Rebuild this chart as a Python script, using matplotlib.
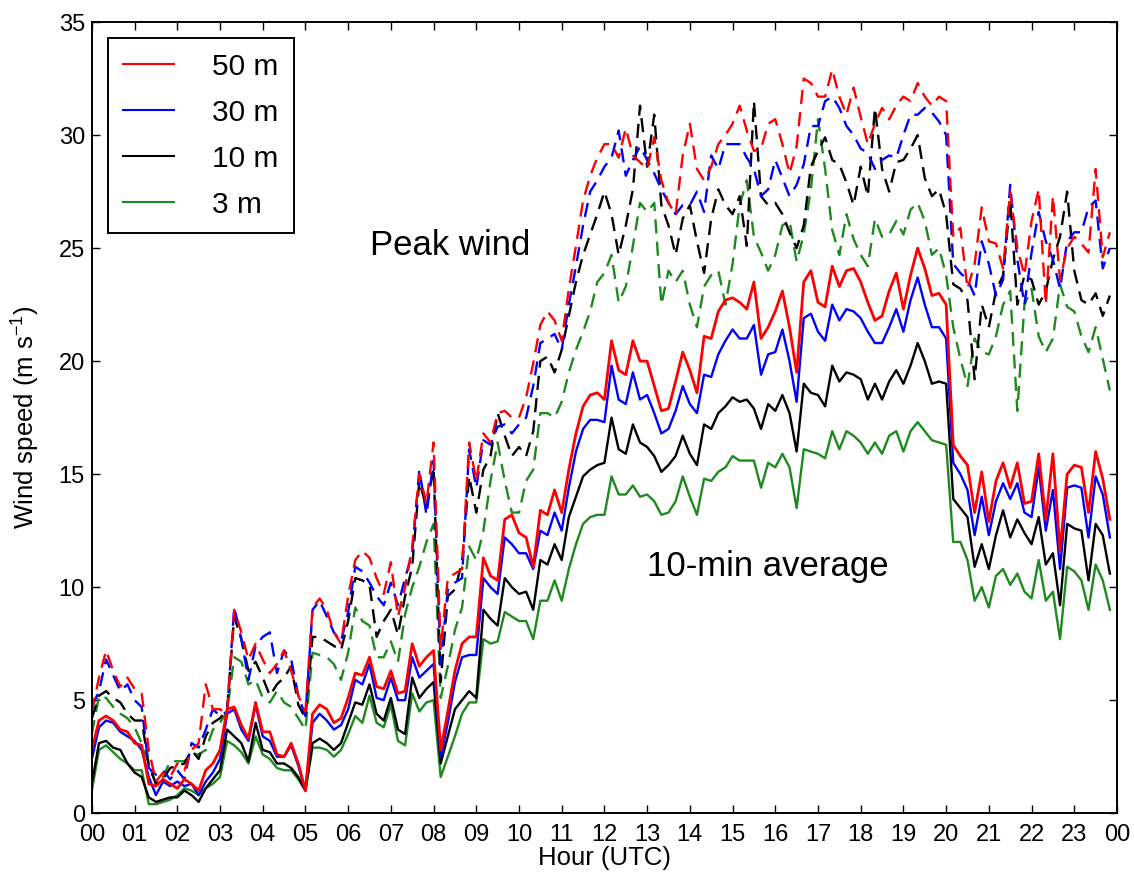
import numpy as np
import matplotlib.pyplot as plt

plt.rcParams['font.family'] = ['Liberation Sans', 'DejaVu Sans']
plt.rcParams['mathtext.default'] = 'regular'

# 10-min samples, 00:00 .. 23:50 (6 per hour)
avg_50m = [
    2.8, 4.1, 4.3, 4.1, 3.7, 3.6,  3.1, 3.0, 1.3, 1.2, 1.5, 1.3,
    1.1, 1.5, 1.3, 1.0, 1.9, 2.2,  2.8, 4.6, 4.7, 3.9, 3.3, 4.9,
    3.6, 3.6, 2.6, 2.5, 3.1, 2.2,  1.0, 4.4, 4.8, 4.6, 4.0, 4.2,
    5.1, 6.2, 6.1, 6.9, 5.6, 5.5,  6.3, 5.3, 5.4, 7.5, 6.5, 6.9,
    7.2, 2.8, 4.5, 6.3, 7.5, 7.8,  7.8, 11.3, 10.5, 10.3, 13.0, 13.2,
    12.4, 12.2, 10.9, 13.4, 13.2, 14.3,  13.3, 15.2, 16.8, 18.0, 18.5, 18.6,
    18.3, 20.9, 19.6, 19.4, 20.9, 20.0,  20.0, 18.9, 17.8, 17.9, 19.1, 20.4,
    19.6, 18.6, 21.1, 21.0, 22.2, 22.7,  22.8, 22.6, 22.3, 23.5, 21.0, 21.5,
    22.2, 23.1, 21.5, 19.5, 23.5, 24.0,  22.6, 22.4, 24.2, 23.3, 24.0, 24.1,
    23.5, 22.6, 21.8, 22.0, 23.1, 23.9,  22.3, 23.8, 25.0, 24.1, 22.9, 23.0,
    22.5, 16.3, 15.8, 15.4, 13.3, 15.1,  12.9, 14.7, 15.5, 14.4, 15.5, 13.7,
    13.8, 15.9, 13.0, 15.9, 11.6, 15.0,  15.4, 15.3, 13.3, 16.0, 14.8, 13.0,
]
avg_30m = [
    2.4, 3.8, 4.1, 4.0, 3.6, 3.4,  3.2, 2.8, 1.6, 0.8, 1.4, 1.2,
    1.4, 1.2, 1.3, 0.8, 1.4, 1.8,  2.4, 4.4, 4.6, 3.7, 3.2, 4.8,
    3.4, 3.2, 2.5, 2.5, 3.0, 2.1,  1.0, 4.0, 4.4, 4.1, 3.7, 3.9,
    4.6, 5.9, 5.7, 6.6, 5.1, 5.0,  6.0, 5.0, 5.0, 6.9, 6.0, 6.3,
    6.6, 2.5, 4.0, 5.8, 6.9, 7.0,  7.0, 10.4, 10.0, 9.7, 12.2, 11.9,
    11.5, 11.5, 10.8, 12.5, 12.3, 13.3,  12.5, 14.4, 16.0, 17.0, 17.4, 17.4,
    17.3, 19.8, 18.3, 18.1, 19.5, 18.3,  18.5, 17.7, 16.8, 17.0, 17.8, 18.9,
    18.1, 17.7, 19.4, 19.3, 20.3, 20.9,  21.4, 21.0, 21.0, 21.6, 19.4, 20.3,
    20.4, 21.4, 20.0, 18.2, 21.9, 22.1,  21.3, 20.9, 22.5, 21.8, 22.3, 22.2,
    21.9, 21.3, 20.8, 20.8, 21.5, 22.3,  21.3, 22.7, 23.7, 22.5, 21.5, 21.5,
    21.0, 15.5, 15.0, 14.3, 12.3, 14.0,  12.3, 13.8, 14.6, 13.9, 14.6, 13.3,
    13.1, 15.3, 12.5, 14.3, 10.8, 14.4,  14.5, 14.4, 12.2, 14.9, 14.1, 12.2,
]
avg_10m = [
    1.3, 3.1, 3.2, 2.9, 2.8, 2.2,  1.8, 1.6, 0.7, 0.5, 0.6, 0.7,
    0.7, 1.0, 0.8, 0.5, 1.1, 1.5,  1.9, 3.7, 3.4, 3.1, 2.3, 4.0,
    2.8, 2.7, 2.2, 2.2, 2.0, 1.6,  1.0, 3.1, 3.3, 3.1, 2.8, 3.1,
    4.0, 4.9, 4.8, 5.7, 4.4, 4.1,  5.1, 3.7, 3.5, 6.0, 5.1, 5.5,
    5.8, 2.2, 3.4, 4.6, 5.0, 5.4,  5.1, 9.0, 8.6, 8.3, 10.4, 10.0,
    9.7, 9.8, 9.0, 11.2, 11.0, 11.9,  11.2, 13.1, 14.0, 14.9, 15.2, 15.4,
    15.5, 17.5, 16.1, 15.9, 17.2, 16.4,  16.2, 15.8, 15.1, 15.4, 15.8, 16.7,
    15.9, 15.4, 17.2, 17.0, 17.7, 18.0,  18.4, 18.2, 18.3, 17.9, 17.0, 18.1,
    17.8, 18.5, 17.7, 16.0, 19.0, 18.6,  18.5, 18.0, 19.8, 19.1, 19.5, 19.4,
    19.2, 18.3, 19.0, 18.3, 19.1, 19.6,  19.0, 19.8, 20.8, 20.0, 19.0, 19.1,
    19.0, 13.9, 13.5, 13.1, 10.9, 11.9,  10.8, 12.3, 13.4, 12.2, 13.0, 12.4,
    11.9, 13.1, 11.0, 11.5, 9.2, 12.8,  12.6, 12.5, 10.3, 12.8, 12.3, 10.6,
]
avg_3m = [
    1.0, 2.8, 3.0, 2.7, 2.4, 2.2,  1.9, 1.9, 0.4, 0.4, 0.5, 0.6,
    0.8, 1.1, 1.0, 0.8, 1.1, 1.3,  1.6, 3.2, 3.0, 2.7, 2.2, 3.4,
    2.6, 2.4, 2.0, 1.9, 1.9, 1.5,  1.0, 2.9, 2.9, 2.8, 2.5, 2.8,
    3.5, 4.3, 4.0, 5.2, 4.0, 3.8,  4.8, 3.2, 3.0, 5.3, 4.5, 4.9,
    5.0, 1.6, 2.5, 3.4, 4.4, 4.9,  4.9, 7.7, 7.5, 7.6, 8.9, 8.7,
    8.5, 8.5, 7.7, 9.4, 9.4, 10.3,  9.4, 10.8, 11.9, 12.8, 13.1, 13.2,
    13.2, 14.9, 14.1, 14.1, 14.5, 14.0,  14.1, 13.8, 13.2, 13.3, 13.8, 14.9,
    14.0, 13.2, 14.8, 14.7, 15.1, 15.3,  15.8, 15.6, 15.6, 15.6, 14.4, 15.5,
    15.3, 15.9, 15.3, 13.5, 16.1, 16.0,  15.9, 15.7, 16.9, 16.1, 16.9, 16.7,
    16.4, 15.9, 16.4, 15.9, 16.7, 16.9,  16.0, 16.9, 17.3, 16.9, 16.5, 16.4,
    16.3, 12.0, 12.0, 11.2, 9.4, 10.0,  9.1, 10.5, 10.8, 10.1, 10.6, 9.8,
    9.5, 11.2, 9.4, 9.8, 7.7, 10.9,  10.7, 10.3, 9.0, 11.0, 10.3, 9.0,
]

peak_50m = [
    4.5, 6.0, 7.2, 6.3, 5.6, 6.0,  5.5, 5.3, 2.8, 1.4, 1.8, 1.6,
    2.2, 1.9, 2.8, 3.1, 5.7, 4.6,  4.6, 4.4, 9.0, 8.0, 6.8, 7.5,
    6.8, 6.2, 6.6, 7.2, 6.3, 5.2,  4.5, 9.1, 9.5, 9.0, 8.0, 7.5,
    9.6, 11.2, 11.6, 11.3, 10.4, 9.7,  11.1, 8.7, 10.0, 11.8, 15.0, 13.7,
    16.4, 7.3, 10.4, 10.6, 10.8, 16.4,  14.7, 16.8, 16.4, 17.7, 17.8, 17.5,
    17.5, 18.4, 19.9, 21.6, 22.2, 21.8,  20.9, 23.2, 25.1, 27.1, 28.2, 29.0,
    29.6, 29.6, 29.0, 30.3, 29.1, 28.8,  28.5, 29.9, 28.0, 27.0, 26.5, 29.1,
    30.5, 28.5, 28.0, 28.6, 29.6, 30.0,  30.5, 31.3, 30.2, 29.3, 29.4, 30.5,
    30.7, 29.6, 28.3, 29.5, 32.5, 32.3,  31.7, 31.7, 32.9, 31.7, 30.9, 32.1,
    30.8, 29.6, 30.5, 31.2, 30.7, 31.3,  31.7, 31.5, 32.3, 31.7, 31.3, 31.7,
    31.5, 25.5, 25.9, 23.2, 24.3, 26.8,  25.3, 25.2, 24.1, 27.5, 25.0, 23.8,
    26.2, 27.6, 22.5, 27.3, 23.6, 25.0,  25.5, 25.2, 24.8, 28.5, 24.6, 25.7,
]
peak_30m = [
    4.7, 5.4, 6.8, 6.1, 5.4, 5.7,  5.0, 4.7, 2.0, 1.7, 1.9, 1.5,
    1.9, 1.5, 3.1, 2.9, 3.7, 4.6,  4.3, 4.5, 9.1, 7.7, 5.9, 7.4,
    7.8, 8.0, 6.2, 7.2, 6.8, 5.2,  4.3, 9.0, 9.4, 8.7, 8.0, 7.6,
    8.9, 10.9, 10.7, 10.2, 9.6, 9.2,  10.2, 9.2, 10.4, 11.5, 15.2, 13.2,
    15.6, 6.6, 9.9, 10.2, 10.4, 16.1,  14.4, 16.5, 16.3, 17.1, 17.2, 16.8,
    17.2, 17.5, 18.9, 20.8, 21.0, 21.2,  20.5, 22.5, 24.2, 26.0, 27.5, 28.0,
    28.6, 29.0, 30.2, 28.2, 28.9, 29.5,  28.9, 28.3, 27.6, 27.0, 26.5, 26.9,
    26.9, 27.5, 26.6, 29.1, 28.5, 29.6,  29.6, 29.6, 29.0, 28.5, 27.3, 27.6,
    28.9, 28.1, 27.3, 27.8, 28.7, 30.4,  30.4, 31.5, 31.7, 31.2, 30.4, 30.0,
    29.4, 29.2, 28.5, 28.9, 29.1, 29.0,  30.0, 30.9, 30.9, 31.2, 31.0, 30.6,
    30.0, 24.3, 23.9, 23.6, 22.9, 25.3,  24.3, 22.9, 23.6, 27.8, 24.5, 22.5,
    24.8, 26.6, 25.3, 24.5, 23.2, 25.3,  25.7, 25.7, 26.8, 27.1, 24.1, 25.0,
]
peak_10m = [
    4.2, 5.2, 5.4, 5.1, 4.9, 4.4,  4.1, 4.1, 2.1, 1.3, 1.5, 2.0,
    2.1, 2.2, 2.8, 2.4, 3.4, 4.0,  4.2, 4.6, 8.7, 7.7, 6.3, 6.7,
    6.0, 5.2, 5.7, 6.0, 6.5, 4.8,  4.2, 7.8, 7.8, 7.6, 7.4, 7.2,
    8.5, 10.4, 10.3, 10.1, 7.8, 8.5,  9.0, 7.9, 9.6, 10.9, 14.7, 13.5,
    15.3, 5.8, 9.6, 9.9, 11.1, 14.9,  13.3, 15.2, 15.8, 17.7, 16.7, 15.8,
    16.2, 15.8, 16.9, 20.0, 20.2, 19.5,  20.5, 22.0, 23.5, 24.7, 25.6, 26.5,
    27.5, 26.5, 24.7, 26.0, 27.6, 31.3,  28.6, 30.9, 26.9, 26.0, 24.7, 26.3,
    26.9, 25.3, 23.9, 26.3, 27.6, 26.9,  26.5, 27.3, 25.1, 31.5, 27.3, 26.9,
    27.0, 26.5, 25.7, 25.0, 26.0, 28.6,  29.3, 29.9, 28.9, 28.7, 27.9, 26.9,
    28.6, 27.3, 31.2, 28.5, 27.5, 28.8,  28.9, 29.4, 30.0, 28.1, 27.3, 27.6,
    26.5, 23.4, 23.2, 22.7, 19.2, 22.5,  21.5, 23.1, 23.8, 27.1, 22.5, 23.8,
    23.6, 22.5, 23.1, 24.5, 25.5, 27.5,  24.0, 22.7, 22.5, 23.0, 22.0, 22.9,
]
peak_3m = [
    3.5, 5.2, 5.1, 4.7, 4.4, 4.2,  3.8, 3.1, 2.2, 1.3, 1.6, 2.3,
    2.3, 2.3, 2.6, 2.6, 2.8, 3.7,  4.0, 4.5, 6.9, 6.7, 5.7, 5.9,
    5.1, 4.9, 5.4, 4.9, 4.7, 4.2,  3.7, 7.1, 7.0, 6.9, 6.6, 5.9,
    7.1, 9.1, 8.5, 8.3, 6.9, 6.9,  7.6, 6.7, 8.8, 10.0, 10.9, 12.0,
    12.8, 5.1, 6.5, 8.1, 9.1, 11.8,  11.2, 12.5, 14.7, 16.4, 14.7, 13.3,
    13.3, 14.7, 15.2, 17.7, 17.7, 17.5,  18.2, 19.5, 20.5, 21.3, 22.2, 23.5,
    23.9, 24.7, 22.6, 23.3, 25.1, 27.0,  26.6, 27.0, 22.5, 24.0, 23.5, 24.0,
    22.5, 21.5, 23.3, 23.8, 24.0, 22.5,  24.3, 26.9, 28.0, 25.5, 24.8, 24.0,
    24.7, 26.0, 26.2, 24.4, 25.6, 27.6,  30.7, 28.5, 25.8, 24.7, 26.5, 25.4,
    24.7, 24.2, 26.3, 25.5, 25.6, 26.2,  25.6, 26.7, 27.0, 26.2, 24.7, 25.0,
    23.8, 21.5, 20.1, 18.9, 21.0, 20.4,  20.3, 21.1, 22.5, 23.1, 17.8, 22.5,
    23.2, 21.1, 20.4, 21.0, 23.4, 22.4,  22.2, 21.1, 20.4, 21.5, 20.1, 18.7,
]

heights = ['50 m', '30 m', '10 m', '3 m']
colors = ['#ff0000', '#0000ff', '#000000', '#1e8a1e']
hour_labels = ['%02d' % (h % 24) for h in range(25)]

hours = np.arange(len(avg_50m)) / 6.0
avgs = [avg_50m, avg_30m, avg_10m, avg_3m]
peaks = [peak_50m, peak_30m, peak_10m, peak_3m]
widths = [2.0, 1.7, 1.7, 1.7]

fig, ax = plt.subplots(figsize=(11.34, 8.82), dpi=100)
fig.subplots_adjust(left=0.081, right=0.985, bottom=0.078, top=0.975)

dash = (0, (6, 3.5))
for i in [3, 2, 1, 0]:
    ax.plot(hours, peaks[i], color=colors[i], lw=1.7, linestyle=dash)

handles = {}
for i in [3, 2, 1, 0]:
    line, = ax.plot(hours, avgs[i], color=colors[i], lw=widths[i],
                    label=heights[i])
    handles[i] = line

ax.set_xlim(0, 24)
ax.set_ylim(0, 35)
ax.set_xticks(range(25))
ax.set_xticklabels(hour_labels)
ax.set_yticks(range(0, 36, 5))
ax.tick_params(direction='in', top=True, right=True, length=6, width=1,
               labelsize=17)
ax.tick_params(axis='x', pad=8)
ax.tick_params(axis='y', pad=5)
for sp in ax.spines.values():
    sp.set_linewidth(1.4)

ax.set_xlabel('Hour (UTC)', fontsize=18.5, labelpad=0)
ax.set_ylabel('Wind speed (m s$^{-1}$)', fontsize=18.5, labelpad=12)

ax.text(8.38, 25.1, 'Peak wind', fontsize=25, ha='center', va='center')
ax.text(15.83, 10.9, '10-min average', fontsize=25, ha='center', va='center')

leg = ax.legend([handles[i] for i in range(4)], heights, loc='upper left',
                bbox_to_anchor=(0.0156, 0.98), borderaxespad=0,
                fontsize=21.5, handlelength=1.7, handletextpad=1.3,
                labelspacing=0.6, borderpad=0.5, fancybox=False,
                framealpha=1, edgecolor='black')
leg.get_frame().set_linewidth(1.4)
for lh in leg.get_lines():
    lh.set_linewidth(1.5)

fig.savefig('out.png', dpi=100)
